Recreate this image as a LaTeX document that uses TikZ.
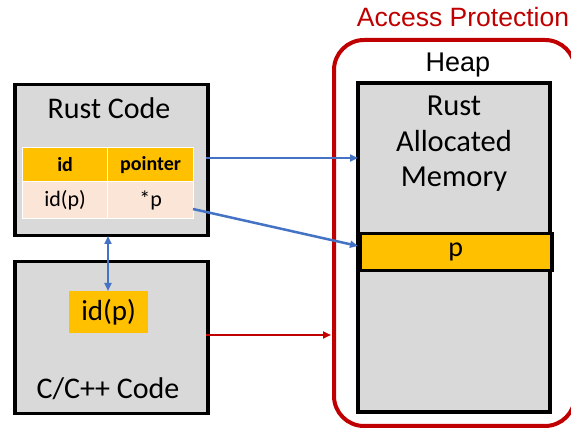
\documentclass[tikz,border=0pt]{standalone}
\usepackage{fontspec}
\setmainfont{Carlito}
\newfontfamily\arialf{Liberation Sans}
\usetikzlibrary{arrows.meta}
\definecolor{boxgray}{HTML}{D9D9D9}
\definecolor{arrblue}{HTML}{4472C4}
\definecolor{darkred}{HTML}{C00000}
\definecolor{orng}{HTML}{FFC000}
\definecolor{peach}{HTML}{FBE5D6}
\begin{document}
\begin{tikzpicture}[x=1pt,y=-1pt,
  graybox/.style={draw=black,line width=3.5pt,fill=boxgray},
  cell/.style={draw=white,line width=1.2pt,minimum height=0pt,inner sep=0pt},
  bluearr/.style={draw=arrblue,line width=2.5pt,-{Triangle[length=8pt,width=7pt]}},
  redarr/.style={draw=darkred,line width=2.5pt,-{Triangle[length=8pt,width=7pt]}},
  lbl/.style={font=\fontsize{30}{34}\selectfont,inner sep=0pt}]
\useasboundingbox (0,0) rectangle (571,430);
\clip (0,0) rectangle (571,430);
% Access protection
\draw[darkred,line width=4pt,rounded corners=30pt] (334,40) rectangle (575,426);
\node[darkred,font=\arialf\fontsize{26.5}{30}\selectfont,inner sep=0pt] (ap) at (463,17) {Access Protection};
\node[font=\arialf\fontsize{27}{30}\selectfont,inner sep=0pt] (heaplbl) at (458,65) {Heap};
% heap box
\draw[graybox] (358,83) rectangle (550,412);
\node[lbl,align=center,font=\fontsize{30.5}{35.5}\selectfont] (ram) at (454,144) {Rust\\Allocated\\Memory};
\node[draw=black,line width=3.5pt,fill=orng,minimum width=192pt,minimum height=37pt,inner sep=0pt,anchor=north west,font=\fontsize{28}{30}\selectfont] (p) at (358,232) {p};
% Rust code box
\node[graybox,minimum width=193pt,minimum height=151pt,anchor=north west,inner sep=0pt] (rust) at (13,83) {};
\node[lbl] (rustlbl) at (109,108) {Rust Code};
% table
\node[cell,fill=orng,minimum width=85pt,minimum height=34pt,anchor=north west,font=\bfseries\fontsize{20}{24}\selectfont] (hid) at (22,147) {id};
\node[cell,fill=orng,minimum width=86pt,minimum height=34pt,anchor=north west,font=\bfseries\fontsize{20}{24}\selectfont] (hptr) at (107,147) {pointer};
\node[cell,fill=peach,minimum width=85pt,minimum height=37pt,anchor=north west,font=\fontsize{22}{26}\selectfont] (did) at (22,181) {id(p)};
\node[cell,fill=peach,minimum width=86pt,minimum height=37pt,anchor=north west,font=\fontsize{22}{26}\selectfont] (dptr) at (107,181) {*p};
% C/C++ box
\node[graybox,minimum width=193pt,minimum height=152pt,anchor=north west,inner sep=0pt] (ccode) at (13,260) {};
\node[fill=orng,minimum width=79pt,minimum height=42pt,inner sep=0pt,anchor=north west,font=\fontsize{29}{34}\selectfont] (idp) at (69,291) {id(p)};
\node[lbl] (clbl) at (108,389) {C/C++ Code};
% arrows
\coordinate (a1s) at (206,158);
\coordinate (a1e) at (358,158);
\draw[bluearr] (a1s) -- (a1e);
\coordinate (a2s) at (193,209);
\coordinate (a2e) at (358,246);
\draw[bluearr] (a2s) -- (a2e);
\coordinate (a3s) at (108,236);
\coordinate (a3e) at (108,291);
\draw[draw=arrblue,line width=2.5pt,{Triangle[length=8pt,width=7pt]}-{Triangle[length=8pt,width=7pt]}] (a3s) -- (a3e);
\coordinate (a4s) at (206,335);
\coordinate (a4e) at (331,335);
\draw[redarr] (a4s) -- (a4e);
\end{tikzpicture}
\end{document}
